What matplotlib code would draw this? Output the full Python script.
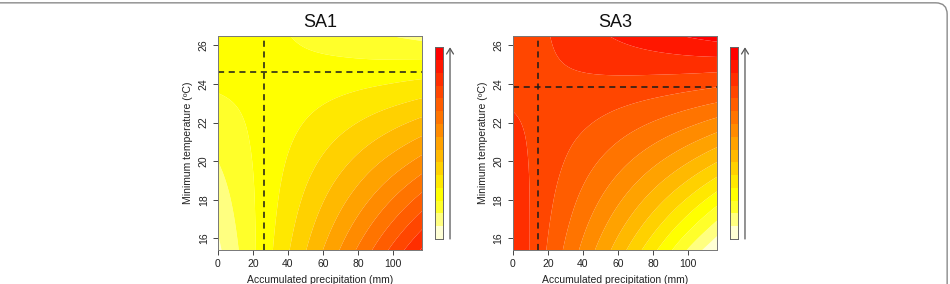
import numpy as np
import matplotlib
matplotlib.use("Agg")
import matplotlib.pyplot as plt
import matplotlib.tri as mtri
from matplotlib.patches import FancyBboxPatch, FancyArrowPatch

plt.rcParams['font.family'] = ['Liberation Sans', 'DejaVu Sans']

# grid of the response surfaces (in colour-level units)
precip = [0, 15, 30, 45, 60, 75, 90, 105, 116.5]
temp = [15.4, 17, 18.5, 20, 21.5, 23, 24.5, 26.5]

# rows = temp (bottom to top), columns = precip
sa1_z = [
    [0.78, 2.31, 3.85, 5.42, 7.00, 8.60, 10.21, 11.85, 13.11],
    [1.19, 2.46, 3.73, 5.03, 6.34, 7.67, 9.02, 10.38, 11.44],
    [1.59, 2.60, 3.63, 4.68, 5.74, 6.81, 7.91, 9.02, 9.88],
    [2.00, 2.76, 3.54, 4.33, 5.14, 5.96, 6.81, 7.66, 8.33],
    [2.42, 2.93, 3.45, 3.99, 4.55, 5.12, 5.71, 6.32, 6.80],
    [2.85, 3.10, 3.37, 3.66, 3.97, 4.29, 4.63, 4.98, 5.27],
    [3.28, 3.29, 3.31, 3.34, 3.40, 3.47, 3.55, 3.66, 3.75],
    [3.88, 3.55, 3.23, 2.93, 2.65, 2.38, 2.13, 1.90, 1.73],
]
sa3_z = [
    [13.01, 11.44, 9.85, 8.21, 6.55, 4.84, 3.11, 1.34, 0.15],
    [12.82, 11.55, 10.26, 8.92, 7.56, 6.16, 4.72, 3.25, 2.10],
    [12.62, 11.64, 10.62, 9.57, 8.49, 7.37, 6.21, 5.02, 4.09],
    [12.41, 11.71, 10.97, 10.20, 9.40, 8.56, 7.69, 6.78, 6.06],
    [12.18, 11.76, 11.30, 10.82, 10.29, 9.73, 9.14, 8.52, 8.01],
    [11.93, 11.79, 11.62, 11.41, 11.17, 10.89, 10.58, 10.23, 9.95],
    [11.66, 11.80, 11.91, 11.99, 12.03, 12.03, 12.00, 11.94, 11.86],
    [11.28, 11.79, 12.28, 12.73, 13.14, 13.52, 13.87, 14.18, 14.39],
]

# dashed reference lines (precipitation, temperature)
sa1_opt = (26.3, 24.64)
sa3_opt = (14.3, 23.82)

titles = ["SA1", "SA3"]

# reversed R heat.colors(15)
n_col = 15
heat = [(1.0, k / 11, 0.0) for k in range(12)] + [(1.0, 1.0, 1 - s) for s in (5 / 6, 0.5, 1 / 6)]
colors = heat[::-1]
levels = [-5] + list(range(1, n_col)) + [20]

fig = plt.figure(figsize=(9.5, 2.84), dpi=100)

# rounded frame around the figure
frame = FancyBboxPatch((-0.02, -0.1), 1.017, 1.09, boxstyle="round,pad=0,rounding_size=0.012",
                       transform=fig.transFigure, fill=False, edgecolor="#8a8a8a", linewidth=1.0,
                       mutation_aspect=950 / 284)
fig.patches.append(frame)

panels = [(0.2292, sa1_z, sa1_opt), (0.5397, sa3_z, sa3_opt)]

X, Y = np.meshgrid(precip, temp)
tri = mtri.Triangulation(X.ravel(), Y.ravel())
refiner = mtri.UniformTriRefiner(tri)

for (left, z, opt), title in zip(panels, titles):
    ax = fig.add_axes([left, 0.1197, 0.215, 0.7546])
    tri_f, z_f = refiner.refine_field(np.array(z).ravel(), subdiv=4)
    ax.tricontourf(tri_f, z_f, levels=levels, colors=colors, antialiased=True)
    ax.set_xlim(precip[0], precip[-1])
    ax.set_ylim(temp[0], temp[-1])
    ax.axvline(opt[0], color="#1a1a1a", linestyle=(0, (4, 3)), linewidth=1.1)
    ax.axhline(opt[1], color="#1a1a1a", linestyle=(0, (4, 3)), linewidth=1.1)

    ax.set_xticks([0, 20, 40, 60, 80, 100])
    ax.set_yticks([16, 18, 20, 22, 24, 26])
    ax.tick_params(direction="out", length=3.5, width=0.7, color="#444444",
                   labelsize=7.5, labelcolor="#222222", pad=3)
    for lab in ax.get_yticklabels():
        lab.set_rotation(90)
        lab.set_va("center")
    for sp in ax.spines.values():
        sp.set_color("#777777")
        sp.set_linewidth(0.7)
    ax.set_xlabel("Accumulated precipitation (mm)", fontsize=7.5, color="#222222", labelpad=4)
    ax.set_ylabel("Minimum temperature (ºC)", fontsize=7.5, color="#222222", labelpad=4)
    ax.set_title(title, fontsize=13, color="#111111", pad=6)

    # colour key
    cax = fig.add_axes([left + 0.2287, 0.1585, 0.0081, 0.675])
    for i, c in enumerate(colors):
        cax.bar(0.5, 1, bottom=i, width=1, color=c, linewidth=0)
    cax.set_xlim(0, 1)
    cax.set_ylim(0, n_col)
    cax.set_xticks([])
    cax.set_yticks([])
    for sp in cax.spines.values():
        sp.set_color("#666666")
        sp.set_linewidth(0.7)

    # arrow next to the key
    ax_x = left + 0.2445
    arr = FancyArrowPatch((ax_x, 0.1585), (ax_x, 0.8335), transform=fig.transFigure,
                          arrowstyle="->,head_length=4,head_width=2.5", color="#555555",
                          linewidth=0.9, shrinkA=0, shrinkB=0)
    fig.patches.append(arr)

fig.savefig("out.png", dpi=100)
